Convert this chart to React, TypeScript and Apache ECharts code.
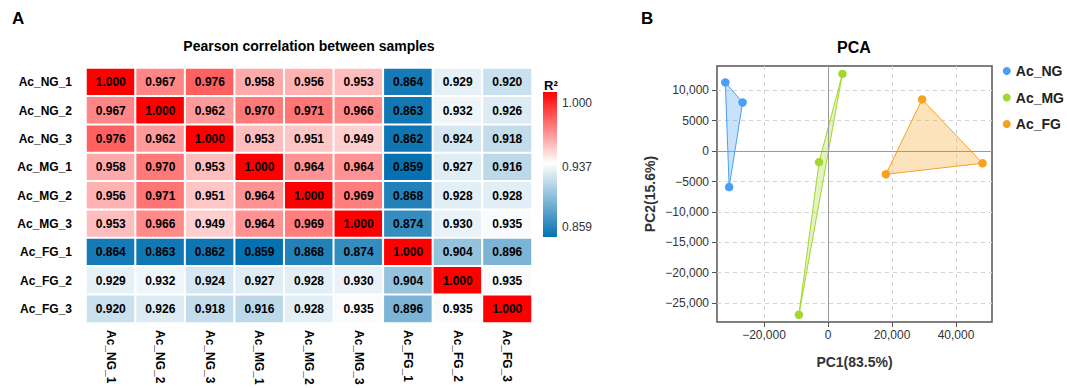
import { useEffect, useRef } from 'react';
import * as echarts from 'echarts';

const samples = ['Ac_NG_1', 'Ac_NG_2', 'Ac_NG_3', 'Ac_MG_1', 'Ac_MG_2', 'Ac_MG_3', 'Ac_FG_1', 'Ac_FG_2', 'Ac_FG_3'];

const corrNG1 = [1.0, 0.967, 0.976, 0.958, 0.956, 0.953, 0.864, 0.929, 0.92];
const corrNG2 = [0.967, 1.0, 0.962, 0.97, 0.971, 0.966, 0.863, 0.932, 0.926];
const corrNG3 = [0.976, 0.962, 1.0, 0.953, 0.951, 0.949, 0.862, 0.924, 0.918];
const corrMG1 = [0.958, 0.97, 0.953, 1.0, 0.964, 0.964, 0.859, 0.927, 0.916];
const corrMG2 = [0.956, 0.971, 0.951, 0.964, 1.0, 0.969, 0.868, 0.928, 0.928];
const corrMG3 = [0.953, 0.966, 0.949, 0.964, 0.969, 1.0, 0.874, 0.93, 0.935];
const corrFG1 = [0.864, 0.863, 0.862, 0.859, 0.868, 0.874, 1.0, 0.904, 0.896];
const corrFG2 = [0.929, 0.932, 0.924, 0.927, 0.928, 0.93, 0.904, 1.0, 0.935];
const corrFG3 = [0.92, 0.926, 0.918, 0.916, 0.928, 0.935, 0.896, 0.935, 1.0];
const corrRows = [corrNG1, corrNG2, corrNG3, corrMG1, corrMG2, corrMG3, corrFG1, corrFG2, corrFG3];

const scaleMin = 0.859;
const scaleMid = 0.937;
const scaleMax = 1.0;
const colorbarLabels = ['1.000', '0.937', '0.859'];

const groups = ['Ac_NG', 'Ac_MG', 'Ac_FG'];
const ngPoints = [[-32100, 11300], [-26700, 8000], [-30900, -5900]];
const mgPoints = [[4500, 12700], [-2800, -1800], [-9100, -26900]];
const fgPoints = [[29400, 8500], [48300, -2000], [18100, -3800]];
const groupPoints = [ngPoints, mgPoints, fgPoints];

const pc1Ticks = [-20000, 0, 20000, 40000];
const pc1Labels = ['\u221220,000', '0', '20,000', '40,000'];
const pc2Ticks = [-25000, -20000, -15000, -10000, -5000, 0, 5000, 10000];
const pc2Labels = ['\u221225,000', '\u221220,000', '\u221215,000', '\u221210,000', '\u22125000', '0', '5000', '10,000'];

const FONT = '"Liberation Sans", Arial, Helvetica, sans-serif';
const BLUE = [5, 113, 176];
const WHITE = [255, 255, 255];
const RED = [255, 0, 0];
const groupColors = ['#4a9ff5', '#a3d630', '#f7a21e'];

function mix(a: number[], b: number[], t: number) {
  const c = a.map((v, i) => Math.round(v + (b[i] - v) * t));
  return '#' + c.map((v) => v.toString(16).padStart(2, '0')).join('');
}

function hexToRgba(hex: string, a: number) {
  const n = parseInt(hex.slice(1), 16);
  return `rgba(${(n >> 16) & 255},${(n >> 8) & 255},${n & 255},${a})`;
}

function buildStops() {
  const N = 141;
  const out: string[] = [];
  for (let i = 0; i <= N; i++) {
    const v = scaleMin + (i * (scaleMax - scaleMin)) / N;
    if (v <= scaleMid) out.push(mix(BLUE, WHITE, (v - scaleMin) / (scaleMid - scaleMin)));
    else out.push(mix(WHITE, RED, (v - scaleMid) / (scaleMax - scaleMid)));
  }
  return out;
}

export default function App() {
  const ref = useRef<HTMLDivElement>(null);
  useEffect(() => {
    if (!ref.current) return;
    const chart = echarts.init(ref.current, undefined, { renderer: 'svg' });

    const heatData: number[][] = [];
    corrRows.forEach((row, yi) => row.forEach((v, xi) => heatData.push([xi, yi, v])));

    const hullSeries = groupPoints.map((pts, gi) => ({
      type: 'custom',
      name: groups[gi] + ' hull',
      xAxisIndex: 1,
      yAxisIndex: 1,
      z: 2,
      silent: true,
      data: pts,
      renderItem: (params: any, api: any) => {
        if (params.dataIndex !== 0) return null;
        const coords = pts.map((p) => api.coord(p));
        return {
          type: 'polygon',
          shape: { points: coords },
          style: { fill: hexToRgba(groupColors[gi], 0.3), stroke: groupColors[gi], lineWidth: 1 },
        };
      },
    }));

    const scatterSeries = groupPoints.map((pts, gi) => ({
      type: 'scatter',
      name: groups[gi],
      xAxisIndex: 1,
      yAxisIndex: 1,
      z: 3,
      symbolSize: 8.5,
      itemStyle: { color: groupColors[gi], opacity: 1 },
      data: pts,
      markLine:
        gi === 0
          ? {
              silent: true,
              symbol: 'none',
              label: { show: false },
              lineStyle: { color: '#9a9a9a', type: 'solid', width: 1 },
              data: [{ xAxis: 0 }, { yAxis: 0 }],
            }
          : undefined,
    }));

    const option: any = {
      animation: false,
      textStyle: { fontFamily: FONT },
      grid: [
        { left: 86, top: 68, width: 446, height: 255 },
        { left: 717, top: 66, width: 275, height: 256, show: true, borderColor: '#555', borderWidth: 1.5, backgroundColor: 'transparent' },
      ],
      xAxis: [
        {
          type: 'category',
          gridIndex: 0,
          data: samples,
          axisLine: { show: false },
          axisTick: { show: false },
          splitLine: { show: false },
          axisLabel: { rotate: -90, margin: 7, fontWeight: 'bold', fontSize: 12, color: '#000', fontFamily: FONT },
        },
        {
          type: 'value',
          gridIndex: 1,
          min: -34700,
          max: 51250,
          axisLine: { show: false, onZero: false },
          axisTick: { show: true, length: 5, lineStyle: { color: '#555' }, customValues: pc1Ticks },
          axisLabel: {
            customValues: pc1Ticks,
            margin: 7,
            fontSize: 12,
            color: '#333',
            fontFamily: FONT,
            formatter: (v: number) => pc1Labels[pc1Ticks.indexOf(v)] ?? '',
          },
          splitLine: { show: true, lineStyle: { type: [4, 4], color: '#d4d4d4', width: 1 } },
          name: 'PC1(83.5%)',
          nameLocation: 'middle',
          nameGap: 33,
          nameTextStyle: { fontWeight: 'bold', fontSize: 14, color: '#333', fontFamily: FONT },
        },
      ],
      yAxis: [
        {
          type: 'category',
          gridIndex: 0,
          data: samples,
          inverse: true,
          axisLine: { show: false },
          axisTick: { show: false },
          splitLine: { show: false },
          axisLabel: { margin: 14, fontWeight: 'bold', fontSize: 12, color: '#000', fontFamily: FONT },
        },
        {
          type: 'value',
          gridIndex: 1,
          min: -28100,
          max: 14000,
          axisLine: { show: false, onZero: false },
          axisTick: { show: true, length: 5, lineStyle: { color: '#555' }, customValues: pc2Ticks },
          axisLabel: {
            customValues: pc2Ticks,
            margin: 8,
            fontSize: 12,
            color: '#333',
            fontFamily: FONT,
            formatter: (v: number) => pc2Labels[pc2Ticks.indexOf(v)] ?? '',
          },
          splitLine: { show: true, lineStyle: { type: [4, 4], color: '#d4d4d4', width: 1 } },
          name: 'PC2(15.6%)',
          nameLocation: 'middle',
          nameGap: 60,
          nameTextStyle: { fontWeight: 'bold', fontSize: 14, color: '#333', fontFamily: FONT },
        },
      ],
      visualMap: {
        type: 'continuous',
        show: false,
        seriesIndex: 0,
        min: scaleMin,
        max: scaleMax,
        inRange: { color: buildStops() },
      },
      legend: {
        data: groups,
        orient: 'vertical',
        right: 3,
        top: 63,
        padding: 0,
        icon: 'circle',
        itemWidth: 8,
        itemHeight: 8,
        itemGap: 10.5,
        selectedMode: false,
        textStyle: { fontSize: 14, fontWeight: 'bold', color: '#222', lineHeight: 16, fontFamily: FONT },
      },
      graphic: [
        { type: 'text', x: 12, y: 18, style: { text: 'A', fontSize: 17, fontWeight: 'bold', fill: '#000', fontFamily: FONT, textVerticalAlign: 'middle' } },
        { type: 'text', x: 641, y: 18, style: { text: 'B', fontSize: 17, fontWeight: 'bold', fill: '#000', fontFamily: FONT, textVerticalAlign: 'middle' } },
        { type: 'text', x: 309, y: 46, style: { text: 'Pearson correlation between samples', fontSize: 14, fontWeight: 'bold', fill: '#000', fontFamily: FONT, textAlign: 'center', textVerticalAlign: 'middle' } },
        { type: 'text', x: 854, y: 47, style: { text: 'PCA', fontSize: 16, fontWeight: 'bold', fill: '#000', fontFamily: FONT, textAlign: 'center', textVerticalAlign: 'middle' } },
        {
          type: 'rect',
          shape: { x: 543, y: 92, width: 14, height: 145 },
          style: {
            fill: new echarts.graphic.LinearGradient(0, 0, 0, 1, [
              { offset: 0, color: mix(RED, RED, 0) },
              { offset: 0.49, color: mix(WHITE, WHITE, 0) },
              { offset: 1, color: mix(BLUE, BLUE, 0) },
            ]),
          },
        },
        { type: 'text', x: 544, y: 85, style: { text: 'R\u00b2', fontSize: 13, fontWeight: 'bold', fill: '#000', fontFamily: FONT, textVerticalAlign: 'middle' } },
        { type: 'text', x: 562, y: 103, style: { text: colorbarLabels[0], fontSize: 12, fill: '#333', fontFamily: FONT, textVerticalAlign: 'middle' } },
        { type: 'text', x: 562, y: 167, style: { text: colorbarLabels[1], fontSize: 12, fill: '#333', fontFamily: FONT, textVerticalAlign: 'middle' } },
        { type: 'text', x: 562, y: 227, style: { text: colorbarLabels[2], fontSize: 12, fill: '#333', fontFamily: FONT, textVerticalAlign: 'middle' } },
      ],
      series: [
        {
          type: 'heatmap',
          xAxisIndex: 0,
          yAxisIndex: 0,
          data: heatData,
          itemStyle: { borderColor: '#fff', borderWidth: 2 },
          label: {
            show: true,
            fontSize: 12,
            fontWeight: 'bold',
            color: '#000',
            fontFamily: FONT,
            formatter: (p: any) => Number(p.value[2]).toFixed(3),
          },
          emphasis: { disabled: true },
        },
        ...hullSeries,
        ...scatterSeries,
      ],
    };

    chart.setOption(option);
    return () => chart.dispose();
  }, []);

  return <div ref={ref} style={{ position: 'fixed', left: 0, top: 0, width: 1067, height: 388, background: '#fff' }} />;
}
